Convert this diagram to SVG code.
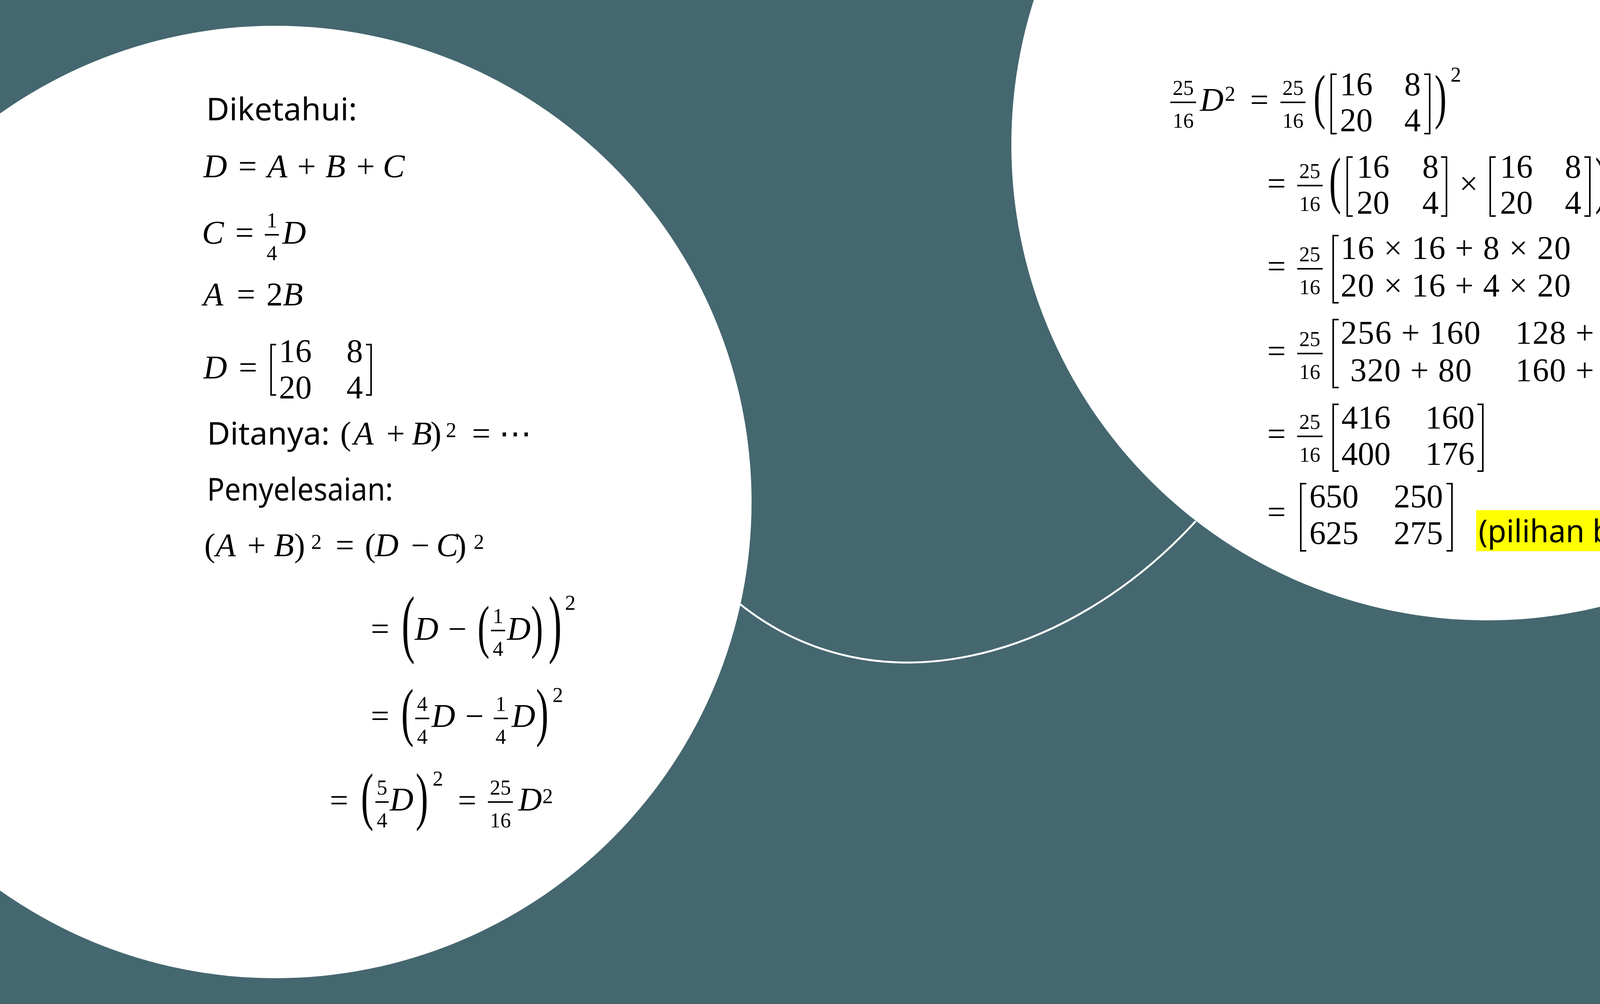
<svg xmlns="http://www.w3.org/2000/svg" width="5140" height="2570" viewBox="0 0 5140 2570">
<style>
.m{font-family:"Liberation Serif","DejaVu Serif",serif;font-size:84px;fill:#000;text-anchor:middle}
.i{font-style:italic}
.f{font-size:54px}
.l{text-anchor:start}
.h{font-family:"Noto Sans","DejaVu Sans",sans-serif;font-size:80px;fill:#000}
.br{fill:none;stroke:#000;stroke-width:4}
.bar{stroke:#000;stroke-width:4}
.node{fill:#fff}
.conn{fill:none;stroke:#fff;stroke-width:5}
</style>
<rect x="0" y="0" width="5140" height="2570" fill="#45676f"/>
<g id="connectors">
<path class="conn" d="M1894,1546 C2245,1827 2737,1688 3061,1334"/>
</g>
<g id="node-left">
<circle class="node" cx="705" cy="1285" r="1219"/>
<text class="h" x="528" y="308" textLength="386" lengthAdjust="spacingAndGlyphs">Diketahui:</text>
<g>
<text class="m i" x="551" y="454">D</text><text class="m" x="634" y="454">=</text><text class="m i" x="710" y="454">A</text><text class="m" x="785" y="454">+</text><text class="m i" x="859" y="454">B</text><text class="m" x="936" y="454">+</text><text class="m i" x="1008" y="454">C</text>
</g>
<g>
<text class="m i" x="545" y="624">C</text><text class="m" x="626" y="624">=</text>
<text class="m f" x="696" y="582">1</text><line class="bar" x1="678" y1="601" x2="714" y2="601"/><text class="m f" x="696" y="666">4</text>
<text class="m i" x="753" y="624">D</text>
</g>
<g>
<text class="m i" x="546" y="782">A</text><text class="m" x="630" y="782">=</text><text class="m" x="703" y="782">2</text><text class="m i" x="750" y="782">B</text>
</g>
<g>
<text class="m i" x="551" y="969">D</text><text class="m" x="635" y="969">=</text>
<polyline class="br" points="707,882 694,882 694,1011 707,1011"/>
<text class="m" x="756" y="927">16</text><text class="m" x="908" y="927">8</text>
<text class="m" x="756" y="1020">20</text><text class="m" x="908" y="1020">4</text>
<polyline class="br" points="937,882 950,882 950,1011 937,1011"/>
</g>
<g>
<text class="h" x="530" y="1138" textLength="314" lengthAdjust="spacingAndGlyphs">Ditanya:</text>
<text class="m" x="885" y="1138">(</text><text class="m i" x="931" y="1138">A</text><text class="m" x="1013" y="1138">+</text><text class="m i" x="1080" y="1138">B</text><text class="m" x="1116" y="1138">)</text><text class="m f" x="1155" y="1119">2</text><text class="m" x="1232" y="1138">=</text><text class="m" x="1319" y="1138">⋯</text>
</g>
<text class="h" x="530" y="1281" textLength="476" lengthAdjust="spacingAndGlyphs">Penyelesaian:</text>
<g>
<text class="m" x="537" y="1424">(</text><text class="m i" x="578" y="1424">A</text><text class="m" x="657" y="1424">+</text><text class="m i" x="727" y="1424">B</text><text class="m" x="767" y="1424">)</text><text class="m f" x="810" y="1405">2</text>
<text class="m" x="883" y="1424">=</text>
<text class="m" x="948" y="1424">(</text><text class="m i" x="990" y="1424">D</text><text class="m" x="1076" y="1424">−</text><text class="m i" x="1145" y="1424">C</text><text class="m" x="1180" y="1424">)</text><text class="m f" x="1226" y="1405">2</text>
</g>
<g>
<text class="m" x="973" y="1638">=</text>
<text class="m" transform="translate(1045,1660) scale(1.2,2.29)">(</text>
<text class="m i" x="1092" y="1638">D</text><text class="m" x="1171" y="1638">−</text>
<text class="m" transform="translate(1238,1655) scale(1.1,1.79)">(</text>
<text class="m f" x="1275" y="1595">1</text><line class="bar" x1="1257" y1="1614" x2="1293" y2="1614"/><text class="m f" x="1275" y="1679">4</text>
<text class="m i" x="1328" y="1638">D</text>
<text class="m" transform="translate(1375,1655) scale(1.1,1.79)">)</text>
<text class="m" transform="translate(1421,1660) scale(1.2,2.29)">)</text>
<text class="m f" x="1460" y="1561">2</text>
</g>
<g>
<text class="m" x="973" y="1861">=</text>
<text class="m" transform="translate(1043,1878) scale(1.15,1.97)">(</text>
<text class="m f" x="1081" y="1820">4</text><line class="bar" x1="1063" y1="1839" x2="1099" y2="1839"/><text class="m f" x="1081" y="1904">4</text>
<text class="m i" x="1135" y="1861">D</text><text class="m" x="1215" y="1861">−</text>
<text class="m f" x="1282" y="1820">1</text><line class="bar" x1="1264" y1="1839" x2="1300" y2="1839"/><text class="m f" x="1282" y="1904">4</text>
<text class="m i" x="1340" y="1861">D</text>
<text class="m" transform="translate(1388,1878) scale(1.15,1.97)">)</text>
<text class="m f" x="1428" y="1797">2</text>
</g>
<g>
<text class="m" x="868" y="2077">=</text>
<text class="m" transform="translate(940,2093) scale(1.15,1.93)">(</text>
<text class="m f" x="978" y="2034">5</text><line class="bar" x1="961" y1="2053" x2="995" y2="2053"/><text class="m f" x="978" y="2118">4</text>
<text class="m i" x="1028" y="2075">D</text>
<text class="m" transform="translate(1080,2093) scale(1.15,1.93)">)</text>
<text class="m f" x="1121" y="2011">2</text>
<text class="m" x="1196" y="2077">=</text>
<text class="m f" x="1281" y="2034">25</text><line class="bar" x1="1249" y1="2053" x2="1313" y2="2053"/><text class="m f" x="1281" y="2118">16</text>
<text class="m i" x="1357" y="2075">D</text><text class="m f" x="1402" y="2056">2</text>
</g>
</g>
<g id="node-right">
<circle class="node" cx="3807" cy="370" r="1218"/>
<g>
<text class="m f" x="3029" y="243">25</text><line class="bar" x1="2996" y1="262" x2="3062" y2="262"/><text class="m f" x="3029" y="327">16</text>
<text class="m i" x="3102" y="284">D</text><text class="m f" x="3149" y="258">2</text>
<text class="m" x="3224" y="284">=</text>
<text class="m f" x="3310" y="243">25</text><line class="bar" x1="3278" y1="262" x2="3342" y2="262"/><text class="m f" x="3310" y="327">16</text>
<text class="m" transform="translate(3378,299) scale(1.1,1.84)">(</text>
<polyline class="br" points="3422,190 3408,190 3408,342 3422,342"/>
<text class="m" x="3472" y="244">16</text><text class="m" x="3616" y="244">8</text>
<text class="m" x="3472" y="336">20</text><text class="m" x="3616" y="336">4</text>
<polyline class="br" points="3646,190 3660,190 3660,342 3646,342"/>
<text class="m" transform="translate(3688,299) scale(1.1,1.84)">)</text>
<text class="m f" x="3727" y="209">2</text>
</g>
<g>
<text class="m" x="3268" y="498">=</text>
<text class="m f" x="3353" y="456">25</text><line class="bar" x1="3321" y1="475" x2="3386" y2="475"/><text class="m f" x="3353" y="540">16</text>
<text class="m" transform="translate(3418,515) scale(1.1,1.91)">(</text>
<polyline class="br" points="3463,402 3449,402 3449,553 3463,553"/>
<text class="m" x="3515" y="455">16</text><text class="m" x="3662" y="455">8</text>
<text class="m" x="3515" y="547">20</text><text class="m" x="3662" y="547">4</text>
<polyline class="br" points="3689,402 3703,402 3703,553 3689,553"/>
<text class="m" x="3760" y="498">×</text>
<polyline class="br" points="3829,402 3815,402 3815,553 3829,553"/>
<text class="m" x="3882" y="455">16</text><text class="m" x="4027" y="455">8</text>
<text class="m" x="3882" y="547">20</text><text class="m" x="4027" y="547">4</text>
<polyline class="br" points="4056,402 4070,402 4070,553 4056,553"/>
<text class="m" transform="translate(4099,515) scale(1.1,1.91)">)</text>
</g>
<g>
<text class="m" x="3268" y="710">=</text>
<text class="m f" x="3353" y="669">25</text><line class="bar" x1="3321" y1="688" x2="3386" y2="688"/><text class="m f" x="3353" y="753">16</text>
<polyline class="br" points="3427,603 3413,603 3413,775 3427,775"/>
<text class="m l" x="3432" y="663" textLength="589" lengthAdjust="spacing">16 × 16 + 8 × 20</text>
<text class="m l" x="4108" y="663" textLength="501" lengthAdjust="spacing">16 × 8 + 8 × 4</text>
<text class="m l" x="3432" y="759" textLength="589" lengthAdjust="spacing">20 × 16 + 4 × 20</text>
<text class="m l" x="4108" y="759" textLength="501" lengthAdjust="spacing">20 × 8 + 4 × 4</text>
<polyline class="br" points="4616,603 4630,603 4630,775 4616,775"/>
</g>
<g>
<text class="m" x="3268" y="927">=</text>
<text class="m f" x="3353" y="886">25</text><line class="bar" x1="3321" y1="905" x2="3386" y2="905"/><text class="m f" x="3353" y="970">16</text>
<polyline class="br" points="3427,818 3413,818 3413,992 3427,992"/>
<text class="m" x="3611" y="880" textLength="358" lengthAdjust="spacing">256 + 160</text>
<text class="m" x="4035" y="880" textLength="311" lengthAdjust="spacing">128 + 32</text>
<text class="m" x="3612" y="976" textLength="311" lengthAdjust="spacing">320 + 80</text>
<text class="m" x="4035" y="976" textLength="311" lengthAdjust="spacing">160 + 16</text>
<polyline class="br" points="4199,818 4213,818 4213,992 4199,992"/>
</g>
<g>
<text class="m" x="3268" y="1139">=</text>
<text class="m f" x="3353" y="1098">25</text><line class="bar" x1="3321" y1="1117" x2="3386" y2="1117"/><text class="m f" x="3353" y="1182">16</text>
<polyline class="br" points="3427,1035 3413,1035 3413,1206 3427,1206"/>
<text class="m" x="3497" y="1097">416</text><text class="m" x="3712" y="1097">160</text>
<text class="m" x="3497" y="1190">400</text><text class="m" x="3712" y="1190">176</text>
<polyline class="br" points="3782,1035 3796,1035 3796,1206 3782,1206"/>
</g>
<g>
<text class="m" x="3268" y="1339">=</text>
<polyline class="br" points="3344,1238 3330,1238 3330,1410 3344,1410"/>
<text class="m" x="3415" y="1299">650</text><text class="m" x="3631" y="1299">250</text>
<text class="m" x="3415" y="1393">625</text><text class="m" x="3631" y="1393">275</text>
<polyline class="br" points="3703,1238 3717,1238 3717,1410 3703,1410"/>
<rect x="3779" y="1306" width="376" height="105" fill="#ffff00"/>
<text class="h" x="3785" y="1388" textLength="363" lengthAdjust="spacingAndGlyphs">(pilihan b)</text>
</g>
</g>
</svg>
